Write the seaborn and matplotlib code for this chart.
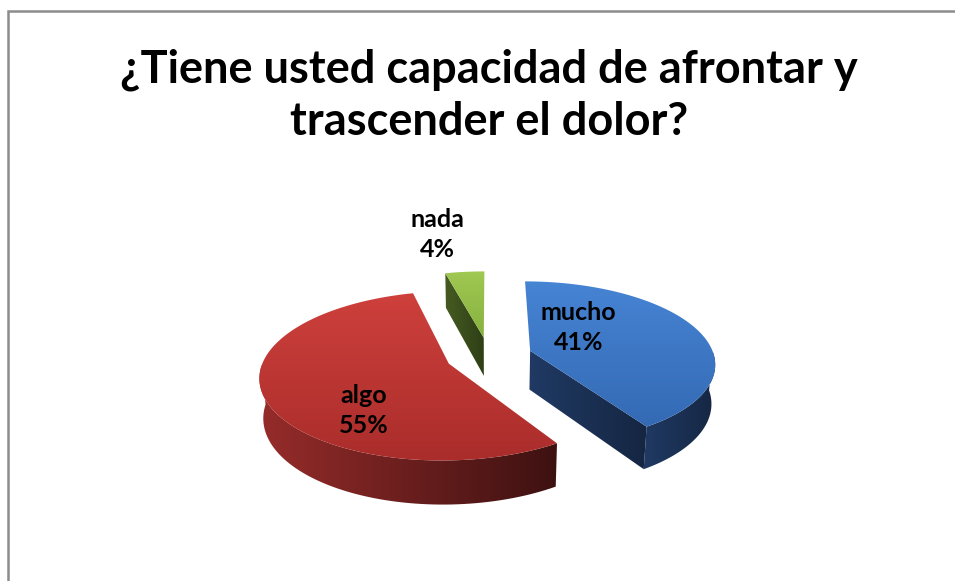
import numpy as np
import matplotlib
matplotlib.use("Agg")
import matplotlib.pyplot as plt
from matplotlib.patches import Polygon
import seaborn as sns

# --- Data ---
labels = ["mucho", "algo", "nada"]
values = [41, 55, 4]
top_colors = [((70, 132, 212), (52, 106, 180)),
              ((206, 64, 60), (170, 45, 43)),
              ((160, 200, 82), (134, 178, 62))]
side_colors = [((32, 58, 100), (21, 38, 66)),
               ((150, 44, 42), (62, 17, 17)),
               ((70, 92, 34), (46, 62, 22))]
# where each data label sits on its slice (radius, angle in degrees)
label_anchor = [(0.42, 47), (0.66, 232), (1.72, 101)]
title = "¿Tiene usted capacidad de afrontar y\ntrascender el dolor?"

# --- Setup ---
sns.set_theme(style="white")
plt.rcParams["font.family"] = ["Lato", "DejaVu Sans"]

W, H = 955, 581
fig = plt.figure(figsize=(9.55, 5.81), dpi=100)
ax = fig.add_axes([0, 0, 1, 1])
ax.set_xlim(0, W)
ax.set_ylim(0, H)
ax.axis("off")

# 3D pie geometry
cx, cy = 489, 356
k = 184
phi = np.radians(26)
D = 6.3
depth = 0.24
explode = 0.235


def proj(X, Z, Hh):
    v = Z * np.sin(phi) + Hh * np.cos(phi)
    w = Z * np.cos(phi) - Hh * np.sin(phi)
    s = 1.0 / (1.0 + w / D)
    return cx + k * X * s, H - (cy - k * v * s)


def rgb(c):
    return np.array(c) / 255.0


def grad_fill(pts, c0, c1, vertical=True, z=1):
    pts = np.array(pts)
    poly = Polygon(pts, closed=True, facecolor="none", edgecolor="none")
    ax.add_patch(poly)
    x0, y0 = pts.min(axis=0)
    x1, y1 = pts.max(axis=0)
    t = np.linspace(0, 1, 64)
    c0, c1 = rgb(c0), rgb(c1)
    if vertical:
        img = (c1[None, :] * (1 - t[:, None]) + c0[None, :] * t[:, None])[:, None, :]
    else:
        img = (c0[None, :] * (1 - t[:, None]) + c1[None, :] * t[:, None])[None, :, :]
    im = ax.imshow(img, extent=(x0 - 1, x1 + 1, y0 - 1, y1 + 1), origin="lower",
                   aspect="auto", interpolation="bilinear", zorder=z)
    im.set_clip_path(poly)


total = sum(values)
start = 90.0
slices = []
for lab, val in zip(labels, values):
    sweep = 360.0 * val / total
    slices.append((lab, val, start - sweep, start))
    start -= sweep

# far slices first
order = sorted(range(len(slices)), key=lambda i: -np.sin(np.radians((slices[i][2] + slices[i][3]) / 2)))
offsets = {}
for i in order:
    lab, val, t0, t1 = slices[i]
    mid = np.radians((t0 + t1) / 2)
    ox, oz = explode * np.cos(mid), explode * np.sin(mid)
    offsets[lab] = (ox, oz)
    ang = np.radians(np.linspace(t0, t1, 120))
    z = 2 + i
    # outer wall, front half only
    vis = np.sin(ang) < 0
    if vis.any():
        a = ang[vis]
        top = [proj(ox + np.cos(q), oz + np.sin(q), 0) for q in a]
        bot = [proj(ox + np.cos(q), oz + np.sin(q), -depth) for q in a[::-1]]
        grad_fill(top + bot, side_colors[i][0], side_colors[i][1], vertical=False, z=z)
    # cut faces turned toward the viewer
    for edge, normal in ((t0, t0 - 90), (t1, t1 + 90)):
        if np.sin(np.radians(normal)) < -0.05:
            e = np.radians(edge)
            pts = [proj(ox, oz, 0), proj(ox + np.cos(e), oz + np.sin(e), 0),
                   proj(ox + np.cos(e), oz + np.sin(e), -depth), proj(ox, oz, -depth)]
            grad_fill(pts, side_colors[i][0], side_colors[i][1], vertical=False, z=z)
    # top face
    pts = [proj(ox, oz, 0)] + [proj(ox + np.cos(q), oz + np.sin(q), 0) for q in ang]
    grad_fill(pts, top_colors[i][0], top_colors[i][1], vertical=True, z=z + 0.5)

# data labels
for (lab, val, t0, t1), (r, a) in zip(slices, label_anchor):
    ox, oz = offsets[lab]
    a = np.radians(a)
    lx, ly = proj(ox + r * np.cos(a), oz + r * np.sin(a), 0)
    ax.text(lx, ly, f"{lab}\n{val}%", ha="center", va="center", fontsize=18,
            fontweight="bold", color="black", linespacing=1.35, zorder=10)

# title
ax.text(489, H - 96, title, ha="center", va="center", fontsize=32.5,
        fontweight="bold", color="black", linespacing=1.3, zorder=10)

# chart border
ax.plot([7.5, 7.5, W], [0, H - 10.5, H - 10.5], color="#8c8c8c", lw=1.8,
        solid_joinstyle="miter", zorder=10)

fig.savefig("out.png", dpi=100)
